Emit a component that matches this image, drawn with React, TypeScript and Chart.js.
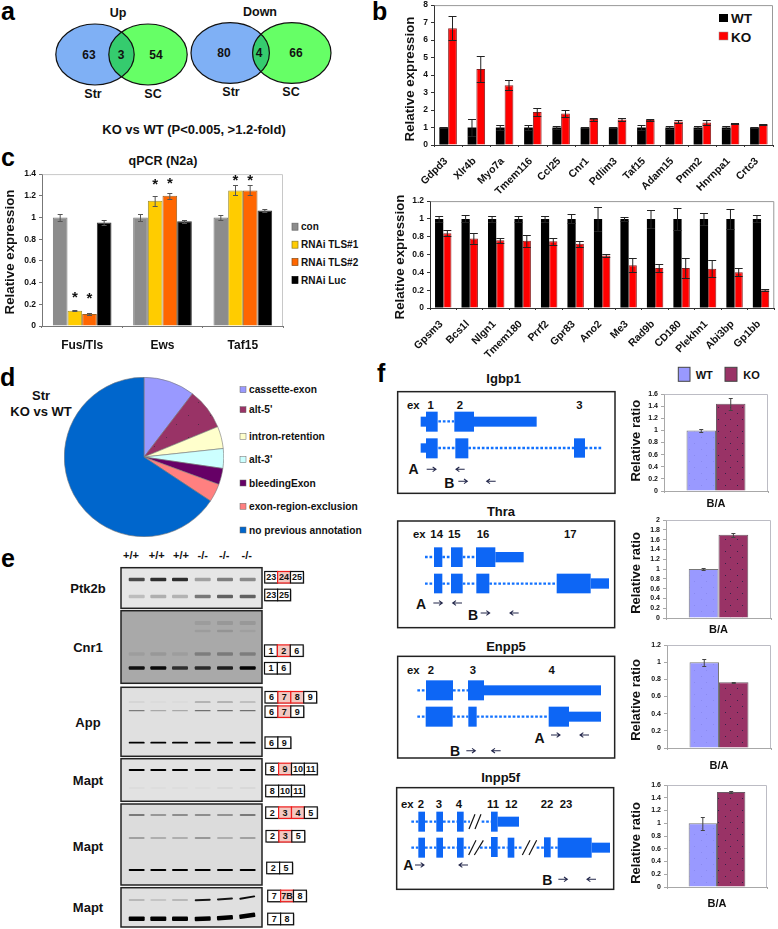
import React, { useEffect, useRef } from "react";
import { Chart, registerables } from "chart.js";

Chart.register(...registerables);

const FONT = '"Liberation Sans", Arial, sans-serif';

// ---- panel b (top)
const upGenes = ["Gdpd3", "Xlr4b", "Myo7a", "Tmem116", "Ccl25", "Cnr1", "Pdlim3", "Taf15", "Adam15", "Pmm2", "Hnrnpa1", "Crtc3"];
const upWT = [1, 1, 1, 1, 1, 1, 1, 1, 1, 1, 1, 1];
const upKO = [6.68, 4.35, 3.42, 1.88, 1.8, 1.48, 1.46, 1.43, 1.34, 1.28, 1.23, 1.18];
const upWTErr = [0.02, 0.48, 0.13, 0.17, 0.08, 0.04, 0.04, 0.13, 0.08, 0.08, 0.06, 0.03];
const upKOErr = [0.67, 0.72, 0.27, 0.23, 0.21, 0.09, 0.06, 0.04, 0.09, 0.15, 0.02, 0.02];

// ---- panel b (bottom)
const downGenes = ["Gpsm3", "Bcs1l", "Nlgn1", "Tmem180", "Prrf2", "Gpr83", "Ano2", "Me3", "Rad9b", "CD180", "Plekhn1", "Abi3bp", "Gp1bb"];
const downWT = [1, 1, 1, 1, 1, 1, 1, 1, 1, 1, 1, 1, 1];
const downKO = [0.84, 0.78, 0.76, 0.755, 0.75, 0.72, 0.59, 0.48, 0.45, 0.45, 0.44, 0.4, 0.2];
const downWTErr = [0.035, 0.04, 0.035, 0.035, 0.035, 0.05, 0.135, 0.02, 0.105, 0.12, 0.07, 0.11, 0.04];
const downKOErr = [0.035, 0.06, 0.03, 0.07, 0.04, 0.03, 0.02, 0.08, 0.045, 0.11, 0.095, 0.045, 0.01];

// ---- panel c
const qpcrGenes = ["Fus/Tls", "Ews", "Taf15"];
const qpcrCon = [1, 1, 1];
const qpcrTls1 = [0.14, 1.155, 1.25];
const qpcrTls2 = [0.11, 1.2, 1.25];
const qpcrLuc = [0.955, 0.965, 1.065];
const qpcrConErr = [0.035, 0.03, 0.022];
const qpcrTls1Err = [0.005, 0.045, 0.045];
const qpcrTls2Err = [0.006, 0.028, 0.045];
const qpcrLucErr = [0.025, 0.015, 0.014];
const qpcrTls1Stars = [0.28, 1.315, 1.36];
const qpcrTls2Stars = [0.265, 1.33, 1.36];

// ---- panel d
const pieLabels = ["cassette-exon", "alt-5'", "intron-retention", "alt-3'", "bleedingExon", "exon-region-exclusion", "no previous annotation"];
const pieValues = [10.4, 8.4, 4.5, 4.0, 3.3, 3.7, 65.7];
const pieColors = ["#9999ff", "#993366", "#ffffcc", "#ccffff", "#660066", "#ff8080", "#0066cc"];

// ---- panel f
const ratioCategory = ["B/A"];
const igbp1WT = [1];
const igbp1KO = [1.44];
const igbp1Err = [[0.03], [0.1]];
const thraWT = [1];
const thraKO = [1.7];
const thraErr = [[0.012], [0.04]];
const enpp5WT = [1];
const enpp5KO = [0.765];
const enpp5Err = [[0.04], [0.003]];
const inpp5fWT = [1];
const inpp5fKO = [1.49];
const inpp5fErr = [[0.1], [0.012]];

// ---- panel e, band intensities per lane
const ptk2bTop = [0.68, 0.8, 0.8, 0.3, 0.45, 0.4];
const ptk2bBottom = [0.18, 0.24, 0.22, 0.48, 0.58, 0.58];
const cnr1Faint1 = [0, 0, 0, 0.08, 0.1, 0.1];
const cnr1Faint2 = [0, 0, 0, 0.08, 0.12, 0.06];
const cnr1Mid = [0.07, 0.1, 0.07, 0.26, 0.28, 0.26];
const cnr1Main = [0.9, 0.95, 0.72, 0.75, 0.82, 0.98];
const appTop = [0.1, 0.05, 0.05, 0.4, 0.4, 0.3];
const appMid = [0.45, 0.25, 0.25, 0.5, 0.5, 0.5];
const appMain = [1, 1, 1, 1, 1, 1];
const maptATop = [1, 1, 1, 1, 1, 1];
const maptABottom = [0.04, 0.03, 0.03, 0.03, 0.06, 0.06];
const maptBTop = [0.6, 0.42, 0.48, 0.48, 0.45, 0.6];
const maptBMid = [0.36, 0.28, 0.28, 0.42, 0.28, 0.36];
const maptBMain = [1, 1, 1, 1, 1, 1];
const maptCTop = [0.18, 0.12, 0.18, 0.9, 0.9, 0.95];
const maptCMain = [1, 1, 1, 1, 1, 1];

const laneCentres = [136.7, 158.3, 180, 202.7, 225, 247.7];
const laneHeaders = ["+/+", "+/+", "+/+", "-/-", "-/-", "-/-"];

function dotPattern(base: string, dot: string, size = 12) {
  const c = document.createElement("canvas");
  c.width = size;
  c.height = size;
  const g = c.getContext("2d")!;
  g.fillStyle = base;
  g.fillRect(0, 0, size, size);
  g.fillStyle = dot;
  g.fillRect(2, 3, 1, 1);
  g.fillRect(Math.floor(size * 0.66), Math.floor(size * 0.75), 1, 1);
  return g.createPattern(c, "repeat");
}

const barExtras = {
  id: "barExtras",
  beforeDatasetsDraw(chart: any, _a: any, o: any) {
    const { ctx, chartArea: a } = chart;
    if (o.frame) {
      ctx.save();
      ctx.strokeStyle = o.frame;
      ctx.lineWidth = 1;
      ctx.beginPath();
      ctx.moveTo(a.left + 0.5, a.top + 0.5);
      ctx.lineTo(a.right - 0.5, a.top + 0.5);
      ctx.lineTo(a.right - 0.5, a.bottom);
      ctx.stroke();
      ctx.restore();
    }
    if (o.title) {
      ctx.save();
      ctx.translate(o.title.x, o.title.y);
      ctx.rotate(-Math.PI / 2);
      ctx.fillStyle = "#111";
      ctx.font = `bold ${o.title.size}px ${FONT}`;
      ctx.textAlign = "center";
      ctx.textBaseline = "middle";
      ctx.fillText(o.title.text, 0, 0);
      ctx.restore();
    }
  },
  afterDatasetsDraw(chart: any, _a: any, o: any) {
    const { ctx } = chart;
    const y = chart.scales.y;
    chart.data.datasets.forEach((ds: any, di: number) => {
      const meta = chart.getDatasetMeta(di);
      meta.data.forEach((el: any, i: number) => {
        const e = ds.err && ds.err[i];
        ctx.save();
        if (e !== undefined) {
          const v = ds.data[i];
          const top = Math.round(y.getPixelForValue(v + e)) + 0.5;
          const bot = Math.round(y.getPixelForValue(v - e)) + 0.5;
          const cap = o.cap;
          ctx.strokeStyle = o.errColor;
          ctx.lineWidth = 1;
          ctx.beginPath();
          ctx.moveTo(el.x, top);
          ctx.lineTo(el.x, bot);
          ctx.moveTo(el.x - cap, top);
          ctx.lineTo(el.x + cap, top);
          ctx.moveTo(el.x - cap, bot);
          ctx.lineTo(el.x + cap, bot);
          ctx.stroke();
        }
        const s = ds.stars && ds.stars[i];
        if (s !== undefined) {
          ctx.fillStyle = "#111";
          ctx.font = `bold 15px ${FONT}`;
          ctx.textAlign = "center";
          ctx.textBaseline = "middle";
          ctx.fillText("*", el.x, y.getPixelForValue(s) + 2);
        }
        ctx.restore();
      });
    });
  },
};

type BarProps = {
  plot: [number, number, number, number];
  titleX: number;
  titleY: number;
  titleSize: number;
  yTitle: string;
  labels: string[];
  datasets: any[];
  yMax: number;
  yStep: number;
  catPct: number;
  tickSize: number;
  xFont: number;
  xPad: number;
  xShift: number;
  rotation: number;
  xHeight: number;
  frame: string;
  axis: string;
  cap: number;
  errColor: string;
};

function BarChart(p: BarProps) {
  const ref = useRef<HTMLCanvasElement>(null);
  const [l, t, r, b] = p.plot;
  const left = Math.round(p.titleX - 10);
  const top = t - 8;
  const width = Math.min(778 - left, r - left + 6);
  const height = Math.min(929 - top, b - top + p.xHeight);
  useEffect(() => {
    const datasets = p.datasets.map((d) => {
      const bg = d.pattern ? dotPattern(d.pattern[0], d.pattern[1]) : d.backgroundColor;
      return { ...d, backgroundColor: bg, barPercentage: 1, categoryPercentage: p.catPct };
    });
    const chart = new Chart(ref.current!, {
      type: "bar",
      data: { labels: p.labels, datasets },
      plugins: [barExtras],
      options: {
        animation: false,
        responsive: false,
        devicePixelRatio: 1,
        layout: { padding: { top: 8, right: width - (r - left), bottom: 0, left: 0 } },
        plugins: {
          legend: { display: false },
          tooltip: { enabled: false },
          barExtras: {
            frame: p.frame,
            cap: p.cap,
            errColor: p.errColor,
            title: { text: p.yTitle, x: p.titleX - left, y: p.titleY - top, size: p.titleSize },
          },
        },
        scales: {
          x: {
            afterFit: (s: any) => {
              s.height = height - (b - top);
            },
            grid: { drawOnChartArea: false, drawTicks: true, tickLength: 2, color: p.axis },
            border: { display: true, color: p.axis },
            ticks: {
              autoSkip: false,
              maxRotation: p.rotation,
              minRotation: p.rotation,
              padding: p.xPad,
              labelOffset: p.xShift,
              color: "#111",
              font: { family: FONT, weight: "bold", size: p.xFont },
            },
          },
          y: {
            min: 0,
            max: p.yMax,
            afterFit: (s: any) => {
              s.width = l - left;
            },
            grid: { drawOnChartArea: false, drawTicks: true, tickLength: 3, color: p.axis },
            border: { display: true, color: p.axis },
            ticks: {
              stepSize: p.yStep,
              autoSkip: false,
              padding: 3,
              color: "#111",
              font: { family: FONT, weight: "bold", size: p.tickSize },
              callback: (v: any) => String(+Number(v).toFixed(1)),
            },
          },
        },
      } as any,
    });
    return () => chart.destroy();
  }, []);
  return (
    <canvas
      ref={ref}
      width={width}
      height={height}
      style={{ position: "absolute", left, top, width, height }}
    />
  );
}

function PieChart() {
  const ref = useRef<HTMLCanvasElement>(null);
  useEffect(() => {
    const colors: any[] = pieColors.slice();
    colors[1] = dotPattern("#993366", "#5a2a48", 22);
    const chart = new Chart(ref.current!, {
      type: "pie",
      data: {
        labels: pieLabels,
        datasets: [{ data: pieValues, backgroundColor: colors, borderColor: "#777", borderWidth: 0.6 }],
      },
      options: {
        animation: false,
        responsive: false,
        devicePixelRatio: 1,
        plugins: { legend: { display: false }, tooltip: { enabled: false } },
      } as any,
    });
    return () => chart.destroy();
  }, []);
  return <canvas ref={ref} width={160} height={160} style={{ position: "absolute", left: 64, top: 377, width: 160, height: 160 }} />;
}

function T({ x, y, s, size = 12, w = "bold", a = "middle", c = "#111" }: any) {
  return (
    <text x={x} y={y} fontFamily={FONT} fontSize={size} fontWeight={w} textAnchor={a} dominantBaseline="central" fill={c}>
      {s}
    </text>
  );
}

function Letter({ x, y, s }: any) {
  return (
    <text x={x} y={y} fontFamily={FONT} fontSize={25} fontWeight="bold" fill="#000">
      {s}
    </text>
  );
}

function Venn({ cl, cr, cy, rx, ry, id }: any) {
  return (
    <g>
      <defs>
        <clipPath id={id}>
          <ellipse cx={cl} cy={cy} rx={rx} ry={ry} />
        </clipPath>
      </defs>
      <ellipse cx={cl} cy={cy} rx={rx} ry={ry} fill="#7fb0f5" />
      <ellipse cx={cr} cy={cy} rx={rx} ry={ry} fill="#66ff66" />
      <ellipse cx={cr} cy={cy} rx={rx} ry={ry} fill="#35cc6e" clipPath={`url(#${id})`} />
      <ellipse cx={cl} cy={cy} rx={rx} ry={ry} fill="none" stroke="#111" strokeWidth={1.2} />
      <ellipse cx={cr} cy={cy} rx={rx} ry={ry} fill="none" stroke="#111" strokeWidth={1.2} />
    </g>
  );
}

function Gel({ y0, y1, bg, bands }: any) {
  return (
    <g>
      <rect x={121} y={y0} width={141} height={y1 - y0} fill={bg} stroke="#222" strokeWidth={1.5} />
      <g filter="url(#bandBlur)">
        {bands.map((b: any, i: number) =>
          b.d.map((v: number, k: number) =>
            v > 0 ? (
              <rect
                key={`${i}-${k}`}
                x={laneCentres[k] - (b.w || 8)}
                y={b.y - b.h / 2 + (b.off ? b.off[k] : 0)}
                width={(b.w || 8) * 2}
                height={b.h}
                rx={1}
                fill="#050505"
                opacity={v}
                transform={b.tilt ? `rotate(${b.tilt[k]} ${laneCentres[k]} ${b.y})` : undefined}
              />
            ) : null
          )
        )}
      </g>
    </g>
  );
}

function ExonRow({ x, y, items }: any) {
  const w = 12.9;
  return (
    <g>
      {items.map((it: string, i: number) => {
        const red = it.endsWith("!");
        const s = red ? it.slice(0, -1) : it;
        return (
          <g key={i}>
            <rect x={x + i * w + 1} y={y - 5} width={w} height={11.5} fill="#aaa" />
            <rect
              x={x + i * w}
              y={y - 5.8}
              width={w}
              height={11.5}
              fill={red ? "#f3c9c2" : "#fff"}
              stroke={red ? "#ee1c1c" : "#111"}
              strokeWidth={1.2}
            />
            <T x={x + i * w + w / 2} y={y} s={s} size={9} />
          </g>
        );
      })}
    </g>
  );
}

function GeneBox({ ox, oy, x0, y0, x1, y1, exons, dots, labels, arrows, slashes }: any) {
  return (
    <g transform={`translate(${ox} ${oy}) scale(${1 / 3})`}>
      <rect x={x0} y={y0} width={x1 - x0} height={y1 - y0} fill="#fff" stroke="#222" strokeWidth={4.5} />
      {exons.map((e: number[], i: number) => (
        <rect key={i} x={e[0]} y={e[1]} width={e[2] - e[0]} height={e[3] - e[1]} fill="#0d66f5" />
      ))}
      {dots.map((d: number[], i: number) => (
        <line key={i} x1={d[0]} x2={d[1]} y1={d[2]} y2={d[2]} stroke="#1272ff" strokeWidth={7} strokeDasharray="8 5.5" />
      ))}
      {labels.map((d: any[], i: number) => (
        <T key={i} x={d[1]} y={d[2]} s={d[0]} size={d[3] || 34} />
      ))}
      {arrows.map((d: number[], i: number) => {
        const [a, b, y] = d;
        const dir = b > a ? 1 : -1;
        return (
          <path
            key={i}
            d={`M${a} ${y}L${b} ${y}M${b - dir * 10} ${y - 7}L${b} ${y}L${b - dir * 10} ${y + 7}`}
            fill="none"
            stroke="#22264a"
            strokeWidth={3.2}
          />
        );
      })}
      {(slashes || []).map((d: number[], i: number) => (
        <line key={i} x1={d[0]} y1={d[1]} x2={d[2]} y2={d[3]} stroke="#111" strokeWidth={3.5} />
      ))}
    </g>
  );
}

const WT_FILL = ["#9999ff", "#8a8af0"];
const KO_FILL = ["#993366", "#33224a"];

function ratioProps(plot: any, titleY: number, wt: number[], ko: number[], err: number[][], max: number, step: number, xPad: number): BarProps {
  return {
    plot,
    titleX: 636.7,
    titleY,
    titleSize: 13,
    yTitle: "Relative ratio",
    labels: ratioCategory,
    datasets: [
      { label: "WT", data: wt, err: err[0], pattern: WT_FILL, borderColor: "#777", borderWidth: 1 },
      { label: "KO", data: ko, err: err[1], pattern: KO_FILL, borderColor: "#6d5a66", borderWidth: 1 },
    ],
    yMax: max,
    yStep: step,
    catPct: 0.567,
    tickSize: 7,
    xFont: 11,
    xPad,
    xShift: 0,
    rotation: 0,
    xHeight: 24,
    frame: "#bcbcc4",
    axis: "#a8a8a8",
    cap: 2,
    errColor: "#444",
  };
}

export default function App() {
  return (
    <div style={{ position: "absolute", left: 0, top: 0, width: 778, height: 929, background: "#fff", overflow: "hidden" }}>
      <svg width={778} height={929} style={{ position: "absolute", left: 0, top: 0 }}>
        <defs>
          <filter id="bandBlur" x="-5%" y="-5%" width="110%" height="110%">
            <feGaussianBlur stdDeviation="0.45" />
          </filter>
        </defs>

        <Letter x={1} y={20} s="a" />
        <Letter x={372} y={20} s="b" />
        <Letter x={1} y={166} s="c" />
        <Letter x={0} y={386} s="d" />
        <Letter x={1} y={567} s="e" />
        <Letter x={377} y={382} s="f" />

        {/* a */}
        <Venn id="v1" cl={95} cr={148} cy={54.5} rx={39.2} ry={30.5} />
        <Venn id="v2" cl={230.2} cr={291.8} cy={53} rx={39.2} ry={30.3} />
        <T x={118} y={12.5} s="Up" size={12.5} />
        <T x={89} y={54.5} s="63" />
        <T x={121} y={54.5} s="3" />
        <T x={156} y={54.5} s="54" />
        <T x={93} y={94} s="Str" size={12.5} />
        <T x={153} y={94} s="SC" size={12.5} />
        <T x={260} y={11.5} s="Down" size={12.5} />
        <T x={224} y={53} s="80" />
        <T x={259} y={53} s="4" />
        <T x={296} y={53} s="66" />
        <T x={231} y={92} s="Str" size={12.5} />
        <T x={291} y={92} s="SC" size={12.5} />
        <T x={194} y={129} s="KO vs WT (P<0.005, >1.2-fold)" size={13} />

        {/* b legend */}
        <rect x={719} y={14} width={9} height={8} fill="#000" />
        <T x={731} y={18.5} s="WT" size={13.5} a="start" />
        <rect x={719} y={32} width={9} height={8} fill="#f00" stroke="#999" strokeWidth={0.5} />
        <T x={731} y={37} s="KO" size={13.5} a="start" />

        {/* c */}
        <T x={163} y={161} s="qPCR (N2a)" size={12.5} />
        {[
          ["con", 226.7, "#8c8c8c", "#666"],
          ["RNAi TLS#1", 244.7, "#ffcc00", "#8a7a20"],
          ["RNAi TLS#2", 262, "#ff6600", "#8a4a10"],
          ["RNAi Luc", 280, "#000", "#000"],
        ].map((d: any) => (
          <g key={d[0]}>
            <rect x={292} y={d[1] - 3.5} width={6} height={7} fill={d[2]} stroke={d[3]} strokeWidth={0.7} />
            <T x={301} y={d[1]} s={d[0]} size={10} a="start" />
          </g>
        ))}

        {/* d */}
        <T x={41} y={395} s="Str" size={13} />
        <T x={41} y={411} s="KO vs WT" size={13} />
        {[389.7, 409.7, 436.3, 459.7, 483, 506.3, 530].map((y, i) => (
          <g key={i}>
            <rect x={240} y={y - 3} width={6} height={6} fill={pieColors[i]} stroke="#666" strokeWidth={0.5} />
            <T x={249} y={y} s={pieLabels[i]} size={10.2} a="start" />
          </g>
        ))}

        {/* e */}
        {laneHeaders.map((h, i) => (
          <T key={i} x={[131, 156.7, 181, 202.7, 224.3, 246.7][i]} y={555} s={h} size={11} />
        ))}
        <T x={88} y={588} s="Ptk2b" size={13} />
        <T x={88} y={647} s="Cnr1" size={13} />
        <T x={88} y={722.7} s="App" size={13} />
        <T x={88} y={780} s="Mapt" size={13} />
        <T x={88} y={846} s="Mapt" size={13} />
        <T x={88} y={907} s="Mapt" size={13} />

        <Gel y0={567.7} y1={608.3} bg="#e6e6e6" bands={[
          { y: 579.5, h: 3.6, d: ptk2bTop },
          { y: 596.5, h: 3.6, d: ptk2bBottom },
        ]} />
        <Gel y0={610.7} y1={683.3} bg="#a9a9a9" bands={[
          { y: 623, h: 4, d: cnr1Faint1 },
          { y: 631, h: 2.5, d: cnr1Faint2 },
          { y: 654, h: 3.5, d: cnr1Mid },
          { y: 668, h: 3.6, d: cnr1Main },
        ]} />
        <Gel y0={687.3} y1={756.3} bg="#e0e0e0" bands={[
          { y: 702, h: 1.2, d: appTop },
          { y: 710.7, h: 1.2, d: appMid },
          { y: 742.7, h: 1.8, d: appMain },
        ]} />
        <Gel y0={758.7} y1={801.3} bg="#e2e2e2" bands={[
          { y: 770, h: 1.8, d: maptATop },
          { y: 788, h: 1.5, d: maptABottom },
        ]} />
        <Gel y0={804} y1={885} bg="#dcdcdc" bands={[
          { y: 815, h: 1.6, d: maptBTop },
          { y: 838, h: 1.3, d: maptBMid },
          { y: 870, h: 2.2, d: maptBMain },
        ]} />
        <Gel y0={887.7} y1={927} bg="#e0e0e0" bands={[
          { y: 900, h: 1.8, d: maptCTop, off: [0, 0, 0, 0, -1, -2.5], tilt: [0, 0, 0, -2, -4, -10] },
          { y: 918.7, h: 4.6, d: maptCMain, off: [0, 0, 0, 0, -1, -3], tilt: [0, 0, 0, -2, -4, -8] },
        ]} />

        <ExonRow x={264.7} y={577.3} items={["23", "24!", "25"]} />
        <ExonRow x={264.7} y={595} items={["23", "25"]} />
        <ExonRow x={264.5} y={650.7} items={["1", "2!", "6"]} />
        <ExonRow x={264.5} y={668.3} items={["1", "6"]} />
        <ExonRow x={265} y={697.3} items={["6", "7!", "8!", "9"]} />
        <ExonRow x={265} y={711.7} items={["6", "7!", "9"]} />
        <ExonRow x={265} y={742.7} items={["6", "9"]} />
        <ExonRow x={265.7} y={769} items={["8", "9!", "10", "11"]} />
        <ExonRow x={265.7} y={791} items={["8", "10", "11"]} />
        <ExonRow x={265.7} y={812.7} items={["2", "3!", "4!", "5"]} />
        <ExonRow x={266} y={836.3} items={["2", "3!", "5"]} />
        <ExonRow x={266.7} y={868} items={["2", "5"]} />
        <ExonRow x={267.7} y={896} items={["7", "7B!", "8"]} />
        <ExonRow x={267.7} y={919} items={["7", "8"]} />

        {/* f */}
        <T x={503.7} y={378} s="Igbp1" size={13} />
        <T x={501} y={511} s="Thra" size={13} />
        <T x={506} y={646} s="Enpp5" size={13} />
        <T x={500.7} y={777} s="Inpp5f" size={13} />

        <GeneBox ox={380} oy={350} x0={53} y0={125} x1={705} y1={430}
          exons={[[122, 200, 140, 230], [138, 185, 173, 245], [223, 185, 282, 245], [282, 200, 470, 230],
            [122, 280, 140, 308], [138, 265, 173, 325], [226, 265, 265, 325], [582, 265, 615, 323]]}
          dots={[[175, 222, 214], [175, 226, 294], [265, 582, 294], [615, 668, 294]]}
          labels={[["ex", 100, 166], ["1", 152, 166], ["2", 240, 166], ["3", 598, 166], ["A", 101, 358, 42], ["B", 208, 400, 42]]}
          arrows={[[140, 168, 358], [254, 228, 358], [235, 262, 394], [347, 320, 394]]} />
        <GeneBox ox={380} oy={505} x0={53} y0={48} x1={704} y1={368}
          exons={[[162, 127, 187, 186], [213, 127, 248, 186], [288, 127, 346, 186], [346, 141, 431, 172],
            [162, 206, 187, 265], [213, 206, 248, 265], [289, 206, 328, 265], [530, 206, 632, 265], [632, 220, 687, 251]]}
          dots={[[135, 162, 156], [187, 213, 156], [248, 288, 156], [135, 162, 236], [187, 213, 236], [248, 289, 236], [328, 530, 236]]}
          labels={[["ex", 118, 88], ["14", 170, 88], ["15", 223, 88], ["16", 309, 88], ["17", 571, 88], ["A", 123, 296, 42], ["B", 279, 331, 42]]}
          arrows={[[160, 187, 294], [246, 218, 294], [302, 329, 324], [416, 390, 324]]} />
        <GeneBox ox={380} oy={640} x0={53} y0={49} x1={704} y1={354}
          exons={[[138, 121, 219, 181], [264, 121, 312, 181], [312, 136, 663, 166],
            [137, 200, 218, 260], [265, 200, 290, 260], [506, 200, 567, 260], [567, 215, 663, 245]]}
          dots={[[112, 138, 151], [219, 264, 151], [112, 137, 230], [218, 265, 230], [290, 506, 230]]}
          labels={[["ex", 100, 91], ["2", 153, 91], ["3", 279, 91], ["4", 515, 91], ["A", 479, 293, 42], ["B", 225, 332, 42]]}
          arrows={[[513, 540, 285], [627, 600, 285], [259, 286, 332], [362, 335, 332]]} />
        <GeneBox ox={380} oy={775} x0={50} y0={38} x1={701} y1={343}
          exons={[[115, 110, 135, 170], [169, 110, 189, 170], [231, 110, 251, 170], [333, 110, 353, 170], [353, 125, 417, 155],
            [115, 188, 135, 248], [169, 188, 189, 248], [231, 188, 251, 248], [333, 186, 353, 246], [383, 188, 403, 248], [492, 187, 512, 247], [533, 188, 635, 248], [635, 203, 690, 233]]}
          dots={[[94, 115, 140], [135, 169, 140], [189, 231, 140], [251, 270, 140], [305, 333, 140],
            [94, 115, 218], [135, 169, 218], [189, 231, 218], [251, 270, 218], [300, 333, 218], [353, 383, 218], [403, 430, 218], [470, 492, 218], [512, 533, 218]]}
          labels={[["ex", 82, 88], ["2", 123, 88], ["3", 177, 88], ["4", 237, 88], ["11", 339, 88], ["12", 394, 88], ["22", 501, 88], ["23", 558, 88], ["A", 85, 270, 42], ["B", 502, 315, 42]]}
          arrows={[[105, 132, 270], [264, 237, 270], [535, 562, 313], [648, 621, 313]]}
          slashes={[[267, 162, 285, 118], [285, 162, 303, 118], [266, 240, 288, 196], [283, 240, 310, 196], [427, 240, 450, 196], [447, 240, 470, 196]]} />

        <rect x={678.3} y={367.3} width={11.7} height={14} fill="#9999ff" stroke="#444" strokeWidth={1} />
        <T x={695.7} y={375} s="WT" size={11} a="start" />
        <rect x={725} y={367.3} width={12} height={14} fill="#993366" stroke="#444" strokeWidth={1} />
        <T x={743.3} y={375} s="KO" size={11} a="start" />
      </svg>

      <BarChart
        plot={[434, 5, 773, 145]}
        titleX={410.5}
        titleY={79}
        titleSize={13.3}
        yTitle="Relative expression"
        labels={upGenes}
        datasets={[
          { label: "WT", data: upWT, err: upWTErr, backgroundColor: "#000", borderColor: "#000", borderWidth: 0 },
          { label: "KO", data: upKO, err: upKOErr, backgroundColor: "#f00", borderColor: "#8a2020", borderWidth: 1 },
        ]}
        yMax={8}
        yStep={1}
        catPct={0.62}
        tickSize={8.5}
        xFont={10.5}
        xPad={8}
        xShift={-2}
        rotation={45}
        xHeight={52}
        frame="#999"
        axis="#333"
        cap={4}
        errColor="#222"
      />
      <BarChart
        plot={[430, 201, 777, 308]}
        titleX={400}
        titleY={257}
        titleSize={13.3}
        yTitle="Relative expression"
        labels={downGenes}
        datasets={[
          { label: "WT", data: downWT, err: downWTErr, backgroundColor: "#000", borderColor: "#000", borderWidth: 0 },
          { label: "KO", data: downKO, err: downKOErr, backgroundColor: "#f00", borderColor: "#8a2020", borderWidth: 1 },
        ]}
        yMax={1.2}
        yStep={0.2}
        catPct={0.62}
        tickSize={8.5}
        xFont={10.5}
        xPad={8}
        xShift={-2}
        rotation={45}
        xHeight={52}
        frame="#999"
        axis="#333"
        cap={4}
        errColor="#222"
      />
      <BarChart
        plot={[42, 174, 283, 326]}
        titleX={10}
        titleY={252}
        titleSize={13.3}
        yTitle="Relative expression"
        labels={qpcrGenes}
        datasets={[
          { label: "con", data: qpcrCon, err: qpcrConErr, backgroundColor: "#8c8c8c", borderColor: "#777", borderWidth: 1 },
          { label: "RNAi TLS#1", data: qpcrTls1, err: qpcrTls1Err, stars: qpcrTls1Stars, backgroundColor: "#ffcc00", borderColor: "#a09030", borderWidth: 1 },
          { label: "RNAi TLS#2", data: qpcrTls2, err: qpcrTls2Err, stars: qpcrTls2Stars, backgroundColor: "#ff6600", borderColor: "#a06020", borderWidth: 1 },
          { label: "RNAi Luc", data: qpcrLuc, err: qpcrLucErr, backgroundColor: "#000", borderColor: "#333", borderWidth: 1 },
        ]}
        yMax={1.4}
        yStep={0.2}
        catPct={0.73}
        tickSize={8.5}
        xFont={12}
        xPad={10}
        xShift={0}
        rotation={0}
        xHeight={30}
        frame="#c8c8c8"
        axis="#777"
        cap={2.5}
        errColor="#555"
      />
      <PieChart />
      <BarChart {...ratioProps([664, 394, 768, 491], 440.7, igbp1WT, igbp1KO, igbp1Err, 1.6, 0.2, 4)} />
      <BarChart {...ratioProps([666, 520, 771, 618], 573, thraWT, thraKO, thraErr, 2, 0.2, 3)} />
      <BarChart {...ratioProps([667, 645, 771, 748], 700, enpp5WT, enpp5KO, enpp5Err, 1.2, 0.2, 9)} />
      <BarChart {...ratioProps([667, 785, 767, 887], 843, inpp5fWT, inpp5fKO, inpp5fErr, 1.6, 0.2, 8)} />
    </div>
  );
}
